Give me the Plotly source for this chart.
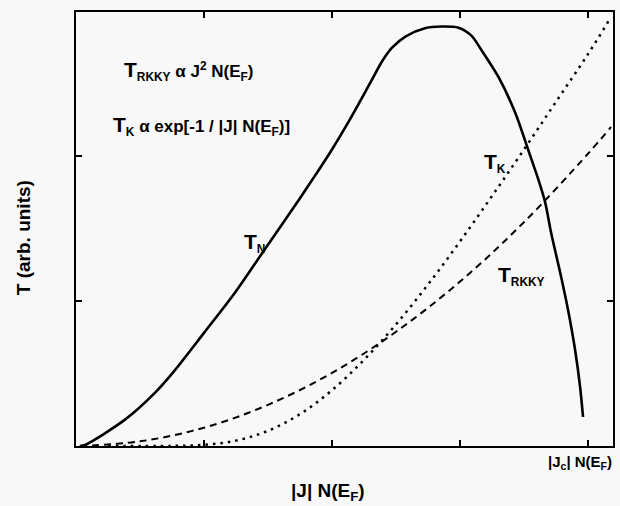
import plotly.graph_objects as go

# T_N (solid)
tn_x = [0.03, 0.07, 0.38, 0.62, 0.77, 1.00, 1.24, 1.47, 1.743, 1.875, 2.00, 2.132, 2.265, 2.342, 2.389,
        2.467, 2.576, 2.732, 2.856, 2.988, 3.089, 3.167, 3.30, 3.432, 3.533, 3.611, 3.665, 3.712,
        3.790, 3.844, 3.899, 3.938, 3.961]
tn_y = [0.0, 0.007, 0.18, 0.37, 0.52, 0.78, 1.055, 1.35, 1.70, 1.875, 2.045, 2.24, 2.45, 2.575, 2.65,
        2.745, 2.825, 2.883, 2.893, 2.885, 2.83, 2.731, 2.545, 2.297, 2.041, 1.84, 1.68, 1.469,
        1.166, 0.938, 0.662, 0.407, 0.20]

# T_RKKY (dashed)
rk_x = [0.03, 0.5, 1.0, 1.5, 2.0, 2.5, 3.0, 3.5, 4.0, 4.18]
rk_y = [0.0, 0.032, 0.126, 0.284, 0.504, 0.788, 1.134, 1.544, 2.016, 2.20]

# T_K (dotted)
tk_x = [0.25, 0.75, 1.0, 1.25, 1.5, 1.75, 2.0, 2.25, 2.5, 2.75, 3.0, 3.25, 3.5, 3.75, 4.0, 4.16]
tk_y = [0.0, 0.0005, 0.008, 0.037, 0.105, 0.22, 0.385, 0.594, 0.839, 1.114, 1.411, 1.724, 2.045, 2.374, 2.703, 2.93]

x_ticks = [1, 2, 3, 4]
y_ticks = [1, 2]

BG = "#f8f8f8"
FONT = "Liberation Sans, Arial, sans-serif"

fig = go.Figure()
fig.add_trace(go.Scatter(x=tn_x, y=tn_y, mode="lines",
                         line=dict(color="black", width=2.6, shape="spline", smoothing=0.8)))
fig.add_trace(go.Scatter(x=rk_x, y=rk_y, mode="lines",
                         line=dict(color="black", width=2, dash="7px,5px", shape="spline")))
fig.add_trace(go.Scatter(x=tk_x, y=tk_y, mode="lines",
                         line=dict(color="black", width=2.5, dash="2.5px,5px", shape="spline")))

def T(sub, big=21):
    return f"<span style='font-size:{big}px'>T</span><sub>{sub}</sub>"

ann = [
    dict(x=122, y=71, text=T("RKKY") + " α J<sup>2</sup> N(E<sub>F</sub>)", size=17),
    dict(x=111, y=126, text=T("K") + " α exp[-1 / |J| N(E<sub>F</sub>)]", size=17),
    dict(x=243, y=243, text=T("N"), size=17),
    dict(x=484, y=163, text=T("K"), size=17),
    dict(x=498, y=276, text=T("RKKY"), size=17),
]

annotations = []
for a in ann:
    annotations.append(dict(
        xref="paper", yref="paper",
        x=(a["x"] - 76) / 539, y=(446 - a["y"]) / 434,
        xanchor="left", yanchor="middle", showarrow=False,
        text="<b>" + a["text"] + "</b>", font=dict(size=a["size"], color="black", family=FONT)))

annotations.append(dict(xref="paper", yref="paper", x=(582 - 76) / 539, y=(446 - 462) / 434,
                        xanchor="center", yanchor="middle", showarrow=False,
                        text="<b>|J<sub>c</sub>| N(E<sub>F</sub>)</b>",
                        font=dict(size=15, color="black", family=FONT)))
annotations.append(dict(xref="paper", yref="paper", x=(329 - 76) / 539, y=(446 - 492) / 434,
                        xanchor="center", yanchor="middle", showarrow=False,
                        text="<b>|J| N(E<sub>F</sub>)</b>",
                        font=dict(size=19, color="black", family=FONT)))
annotations.append(dict(xref="paper", yref="paper", x=(23 - 76) / 539, y=(446 - 238) / 434,
                        xanchor="center", yanchor="middle", showarrow=False, textangle=-90,
                        text="<b>T (arb. units)</b>",
                        font=dict(size=19, color="black", family=FONT)))

axis_common = dict(showline=True, linecolor="black", linewidth=2, mirror="ticks",
                   ticks="inside", ticklen=6, tickwidth=1.5, tickcolor="black",
                   showgrid=False, zeroline=False, showticklabels=False)

fig.update_layout(
    width=620, height=506,
    margin=dict(l=76, r=5, t=12, b=60),
    paper_bgcolor=BG, plot_bgcolor=BG,
    showlegend=False,
    hovermode=False,
    xaxis=dict(range=[0, 4.195], tickvals=x_ticks, **axis_common),
    yaxis=dict(range=[0, 2.993], tickvals=y_ticks, **axis_common),
    annotations=annotations,
)

fig.write_html("out.html",
               config={"displayModeBar": False},
               post_script="document.body.style.margin='0';document.body.style.overflow='hidden';"
                           "document.documentElement.style.background='#f8f8f8';")
